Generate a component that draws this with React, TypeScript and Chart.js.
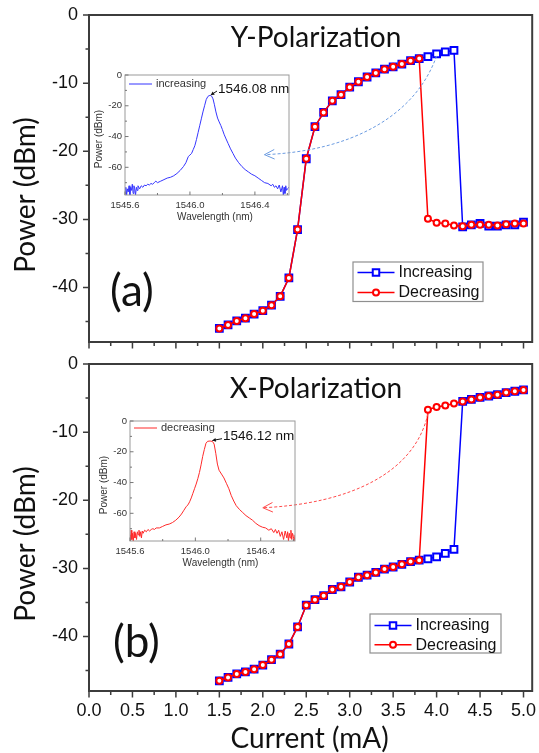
import React, { useEffect, useRef } from 'react';
import { Chart, registerables } from 'chart.js';

Chart.register(...registerables);

// ---------- data ----------
const CURRENT_MA = [1.5, 1.6, 1.7, 1.8, 1.9, 2.0, 2.1, 2.2, 2.3, 2.4, 2.5, 2.6, 2.7, 2.8, 2.9, 3.0, 3.1, 3.2, 3.3, 3.4, 3.5, 3.6, 3.7, 3.8, 3.9, 4.0, 4.1, 4.2, 4.3, 4.4, 4.5, 4.6, 4.7, 4.8, 4.9, 5.0];

const Y_POL_INCREASING = [-46.0, -45.5, -44.9, -44.5, -43.9, -43.4, -42.6, -41.3, -38.6, -31.5, -21.1, -16.4, -14.3, -12.6, -11.7, -10.6, -9.8, -9.1, -8.5, -7.95, -7.6, -7.2, -6.7, -6.4, -6.1, -5.7, -5.4, -5.2, -31.1, -30.8, -30.6, -31.0, -31.0, -30.8, -30.8, -30.4];
const Y_POL_DECREASING = [-46.0, -45.5, -44.9, -44.5, -43.9, -43.4, -42.6, -41.3, -38.6, -31.5, -21.1, -16.4, -14.3, -12.6, -11.7, -10.6, -9.8, -9.1, -8.5, -7.95, -7.6, -7.2, -6.7, -6.4, -29.9, -30.5, -30.6, -30.9, -31.0, -30.8, -30.8, -30.8, -30.9, -30.7, -30.6, -30.6];

const X_POL_INCREASING = [-46.5, -46.0, -45.5, -45.2, -44.8, -44.2, -43.4, -42.6, -41.1, -38.6, -35.4, -34.6, -34.0, -33.1, -32.7, -32.0, -31.3, -31.0, -30.6, -30.1, -29.8, -29.4, -29.0, -28.8, -28.6, -28.3, -27.8, -27.2, -5.5, -5.2, -4.9, -4.7, -4.5, -4.2, -4.0, -3.8];
const X_POL_DECREASING = [-46.5, -46.0, -45.5, -45.2, -44.8, -44.2, -43.4, -42.6, -41.1, -38.6, -35.4, -34.6, -34.0, -33.1, -32.7, -32.0, -31.3, -31.0, -30.6, -30.1, -29.8, -29.4, -29.0, -28.8, -6.7, -6.3, -6.1, -5.8, -5.5, -5.2, -4.9, -4.7, -4.5, -4.2, -4.0, -3.8];

const MAIN_X_TICKS = [0, 0.5, 1.0, 1.5, 2.0, 2.5, 3.0, 3.5, 4.0, 4.5, 5.0];
const MAIN_X_MINOR = [0.25, 0.75, 1.25, 1.75, 2.25, 2.75, 3.25, 3.75, 4.25, 4.75];
const MAIN_Y_TICKS = [0, -10, -20, -30, -40];
const MAIN_Y_MINOR = [-5, -15, -25, -35, -45];

// inset spectra
const WL_INCREASING = [1545.600, 1545.605, 1545.610, 1545.615, 1545.620, 1545.625, 1545.630, 1545.635, 1545.640, 1545.645, 1545.650, 1545.655, 1545.660, 1545.665, 1545.670, 1545.675, 1545.680, 1545.690, 1545.700, 1545.710, 1545.720, 1545.730, 1545.740, 1545.750, 1545.760, 1545.770, 1545.780, 1545.790, 1545.800, 1545.820, 1545.840, 1545.860, 1545.880, 1545.900, 1545.920, 1545.940, 1545.960, 1545.975, 1545.990, 1546.000, 1546.010, 1546.020, 1546.030, 1546.040, 1546.050, 1546.060, 1546.070, 1546.080, 1546.090, 1546.100, 1546.110, 1546.118, 1546.126, 1546.134, 1546.142, 1546.150, 1546.160, 1546.170, 1546.180, 1546.190, 1546.200, 1546.210, 1546.220, 1546.235, 1546.250, 1546.265, 1546.280, 1546.300, 1546.320, 1546.340, 1546.360, 1546.380, 1546.400, 1546.420, 1546.440, 1546.460, 1546.480, 1546.500, 1546.510, 1546.520, 1546.530, 1546.540, 1546.550, 1546.560, 1546.570, 1546.575, 1546.580, 1546.585, 1546.590, 1546.595, 1546.600, 1546.610];
const PW_INCREASING = [-77, -73, -78, -74, -76, -72, -78, -73, -75, -71, -77, -72, -74, -78, -73, -75, -72, -74, -72, -73, -71.5, -72, -71, -71.5, -70.5, -71, -70, -69, -70, -69, -68, -67, -66.5, -65.5, -64, -62, -59.5, -57, -53, -52, -51, -48.5, -46, -42, -37.5, -33, -28.5, -24, -20, -16, -14, -13.4, -13.3, -13.8, -15.5, -19, -24, -28, -30.5, -32.8, -35.5, -38.5, -41, -44.5, -48, -51, -54, -57, -59.5, -61.5, -63, -64.5, -65.5, -67, -68.5, -70, -70.5, -72, -71, -73, -72, -74, -71.5, -76, -72, -78, -73, -77, -72, -75, -74, -73];

const WL_DECREASING = [1545.600, 1545.603, 1545.607, 1545.611, 1545.615, 1545.620, 1545.625, 1545.630, 1545.635, 1545.640, 1545.645, 1545.650, 1545.655, 1545.660, 1545.665, 1545.670, 1545.675, 1545.680, 1545.690, 1545.700, 1545.710, 1545.720, 1545.730, 1545.740, 1545.750, 1545.760, 1545.780, 1545.800, 1545.820, 1545.840, 1545.860, 1545.880, 1545.900, 1545.915, 1545.930, 1545.945, 1545.955, 1545.965, 1545.975, 1545.985, 1545.995, 1546.005, 1546.015, 1546.025, 1546.035, 1546.045, 1546.055, 1546.065, 1546.075, 1546.090, 1546.105, 1546.115, 1546.125, 1546.135, 1546.145, 1546.160, 1546.175, 1546.190, 1546.205, 1546.220, 1546.235, 1546.250, 1546.270, 1546.290, 1546.310, 1546.330, 1546.350, 1546.370, 1546.390, 1546.410, 1546.430, 1546.450, 1546.465, 1546.480, 1546.490, 1546.500, 1546.510, 1546.520, 1546.530, 1546.540, 1546.550, 1546.560, 1546.565, 1546.570, 1546.575, 1546.580, 1546.585, 1546.590, 1546.595, 1546.600, 1546.605, 1546.610];
const PW_DECREASING = [-74, -78, -71, -77, -73, -78, -72, -76, -73, -77, -72, -74, -71, -75, -72, -76, -71.5, -73, -71, -72, -70.5, -71.5, -70.5, -70, -70.5, -69.5, -69.5, -68.5, -67.5, -67, -66, -64.5, -62.5, -60.5, -58, -55.5, -54.5, -52.5, -50, -47, -44, -41, -37.5, -33.5, -28.5, -23, -18.5, -14.5, -13.2, -13, -13.3, -15, -21, -28, -32, -34.5, -37, -40.5, -44, -48.5, -52, -55, -57.5, -59.5, -61.5, -63, -64.5, -66.5, -68, -69, -69.5, -71, -70, -72.5, -70.5, -73, -71, -75, -72, -77, -71.5, -76, -72, -78, -73, -76, -71, -77, -73, -75, -78, -74];

const INSET_X_TICKS = [1545.6, 1546.0, 1546.4];
const INSET_X_MINOR = [1545.8, 1546.2, 1546.6];
const INSET_Y_TICKS = [0, -20, -40, -60];
const INSET_Y_MINOR = [-10, -30, -50, -70];

// annotation arrows in data coordinates: start, control 1, control 2, tip
const Y_ARROW = [[4.0, -6.0], [3.75, -15], [3.0, -20], [2.02, -20.5]];
const X_ARROW = [[3.9, -7.3], [3.75, -16], [3.0, -20.5], [2.0, -21.1]];
// spectrum peaks (nm, dBm)
const Y_PEAK = [1546.122, -13.4];
const X_PEAK = [1546.098, -13.0];

// ---------- style ----------
const BLUE = '#0000ff';
const RED = '#ff0000';
const AXIS = '#3c3c3c';
const SANS = '"Liberation Sans", Arial, sans-serif';
const TITLE = 'Lato, "Open Sans", sans-serif';

function drawMarker(ctx: CanvasRenderingContext2D, kind: string, x: number, y: number, color: string) {
  ctx.save();
  ctx.lineWidth = 2;
  ctx.strokeStyle = color;
  ctx.fillStyle = '#fff';
  ctx.beginPath();
  if (kind === 'rect') ctx.rect(x - 3.25, y - 3.25, 6.5, 6.5);
  else ctx.arc(x, y, 3, 0, Math.PI * 2);
  ctx.fill();
  ctx.stroke();
  ctx.restore();
}

function makeMainDecor(cfg: any) {
  return {
    id: 'mainDecor',
    afterDraw(chart: any) {
      const { ctx, chartArea: ca } = chart;
      const xs = chart.scales.x;
      const ys = chart.scales.y;
      ctx.save();
      // ticks (outward)
      ctx.strokeStyle = AXIS;
      ctx.lineWidth = 1.5;
      ctx.beginPath();
      MAIN_X_TICKS.forEach((v) => { const p = xs.getPixelForValue(v); ctx.moveTo(p, ca.bottom); ctx.lineTo(p, ca.bottom + 6.5); });
      MAIN_X_MINOR.forEach((v) => { const p = xs.getPixelForValue(v); ctx.moveTo(p, ca.bottom); ctx.lineTo(p, ca.bottom + 4); });
      MAIN_Y_TICKS.forEach((v) => { const p = ys.getPixelForValue(v); ctx.moveTo(ca.left, p); ctx.lineTo(ca.left - 6, p); });
      MAIN_Y_MINOR.forEach((v) => { const p = ys.getPixelForValue(v); ctx.moveTo(ca.left, p); ctx.lineTo(ca.left - 3.5, p); });
      ctx.stroke();
      // frame
      ctx.lineWidth = 2;
      ctx.strokeRect(ca.left, ca.top, ca.right - ca.left, ca.bottom - ca.top);

      // curved dashed arrow
      const pts = cfg.arrow.map((p: number[]) => [xs.getPixelForValue(p[0]), ys.getPixelForValue(p[1])]);
      ctx.strokeStyle = cfg.arrowColor;
      ctx.lineWidth = 1;
      ctx.setLineDash([3, 2]);
      ctx.beginPath();
      ctx.moveTo(pts[0][0], pts[0][1]);
      ctx.bezierCurveTo(pts[1][0], pts[1][1], pts[2][0], pts[2][1], pts[3][0], pts[3][1]);
      ctx.stroke();
      ctx.setLineDash([]);
      const tip = pts[3];
      const ang = Math.atan2(tip[1] - pts[2][1], tip[0] - pts[2][0]);
      const L = 11;
      const W = 0.45;
      ctx.beginPath();
      ctx.moveTo(tip[0] - L * Math.cos(ang - W), tip[1] - L * Math.sin(ang - W));
      ctx.lineTo(tip[0], tip[1]);
      ctx.lineTo(tip[0] - L * Math.cos(ang + W), tip[1] - L * Math.sin(ang + W));
      ctx.stroke();

      // legend
      const lx = ca.left + cfg.legend.dx;
      const ly = ca.top + cfg.legend.dy;
      ctx.fillStyle = '#fff';
      ctx.fillRect(lx, ly, cfg.legend.w, cfg.legend.h);
      ctx.strokeStyle = '#8f8f8f';
      ctx.lineWidth = 1.2;
      ctx.strokeRect(lx, ly, cfg.legend.w, cfg.legend.h);
      const ordered = [chart.data.datasets[1], chart.data.datasets[0]];
      ordered.forEach((ds: any, i: number) => {
        const ry = ly + cfg.legend.rows[i];
        ctx.strokeStyle = ds.borderColor;
        ctx.lineWidth = 1.5;
        ctx.beginPath();
        ctx.moveTo(lx + 4.5, ry);
        ctx.lineTo(lx + 41.5, ry);
        ctx.stroke();
        drawMarker(ctx, ds.pointStyle, lx + 23, ry, ds.borderColor);
        ctx.fillStyle = '#111';
        ctx.font = `16px ${SANS}`;
        ctx.textAlign = 'left';
        ctx.textBaseline = 'middle';
        ctx.fillText(ds.label, lx + 45.5, ry + 0.5);
      });

      // texts
      ctx.fillStyle = '#111';
      ctx.textBaseline = 'alphabetic';
      ctx.font = `28px ${TITLE}`;
      ctx.textAlign = 'center';
      ctx.fillText(cfg.title, ca.left + 227, ca.top + cfg.titleDy);
      ctx.font = `44px ${TITLE}`;
      ctx.textAlign = 'left';
      ctx.fillText(cfg.letter, ca.left + cfg.letterDx, ca.top + cfg.letterDy);
      // y title
      ctx.save();
      ctx.translate(35, ca.top + 180);
      ctx.rotate(-Math.PI / 2);
      ctx.font = `28px ${TITLE}`;
      ctx.textAlign = 'center';
      ctx.fillText('Power (dBm)', 0, 0);
      ctx.restore();
      if (cfg.showX) {
        ctx.font = `28px ${TITLE}`;
        ctx.textAlign = 'center';
        ctx.fillText('Current (mA)', (ca.left + ca.right) / 2 - 1, ca.bottom + 57);
      }
      ctx.restore();
    },
  };
}

function makeMainChart(canvas: HTMLCanvasElement, cfg: any) {
  return new Chart(canvas, {
    type: 'line',
    data: {
      datasets: [
        {
          label: 'Decreasing',
          data: CURRENT_MA.map((x, i) => ({ x, y: cfg.dec[i] })),
          borderColor: RED,
          backgroundColor: '#fff',
          borderWidth: 1.5,
          pointStyle: 'circle',
          pointRadius: 3,
          pointBorderWidth: 2,
          pointBackgroundColor: '#fff',
          pointBorderColor: RED,
          tension: 0,
        },
        {
          label: 'Increasing',
          data: CURRENT_MA.map((x, i) => ({ x, y: cfg.inc[i] })),
          borderColor: BLUE,
          backgroundColor: '#fff',
          borderWidth: 1.5,
          pointStyle: 'rect',
          pointRadius: 4.8,
          pointBorderWidth: 2,
          pointBackgroundColor: '#fff',
          pointBorderColor: BLUE,
          tension: 0,
        },
      ],
    },
    options: {
      responsive: false,
      animation: false,
      events: [],
      layout: { padding: { left: 0, top: cfg.padTop, right: 4, bottom: 0 } },
      plugins: { legend: { display: false }, tooltip: { enabled: false } },
      scales: {
        x: {
          type: 'linear',
          min: 0,
          max: 5.1,
          grid: { display: false, drawTicks: false },
          border: { display: false },
          ticks: {
            display: cfg.showX,
            padding: 9,
            autoSkip: false,
            maxRotation: 0,
            color: '#111',
            font: { family: SANS, size: 18 },
            callback: (v: any) => Number(v).toFixed(1),
          },
          afterBuildTicks: (s: any) => { s.ticks = MAIN_X_TICKS.map((value) => ({ value })); },
          afterFit: (s: any) => { s.height = cfg.xHeight; s.paddingLeft = 0; s.paddingRight = 0; },
        },
        y: {
          type: 'linear',
          min: -48,
          max: 0,
          grid: { display: false, drawTicks: false },
          border: { display: false },
          ticks: {
            padding: 11,
            autoSkip: false,
            color: '#111',
            font: { family: SANS, size: 18 },
            callback: (v: any) => String(Math.round(Number(v))),
          },
          afterBuildTicks: (s: any) => { s.ticks = MAIN_Y_TICKS.map((value) => ({ value })); },
          afterFit: (s: any) => { s.width = 89; s.paddingTop = 0; s.paddingBottom = 0; },
        },
      },
    },
    plugins: [makeMainDecor(cfg)],
  } as any);
}

function makeInsetDecor(cfg: any) {
  return {
    id: 'insetDecor',
    afterDraw(chart: any) {
      const { ctx, chartArea: ca } = chart;
      const xs = chart.scales.x;
      const ys = chart.scales.y;
      ctx.save();
      ctx.strokeStyle = '#9a9a9a';
      ctx.lineWidth = 1;
      ctx.strokeRect(ca.left, ca.top, ca.right - ca.left, ca.bottom - ca.top);
      ctx.strokeStyle = '#777';
      ctx.beginPath();
      INSET_X_TICKS.forEach((v) => { const p = xs.getPixelForValue(v); ctx.moveTo(p, ca.bottom); ctx.lineTo(p, ca.bottom - 3.5); });
      INSET_X_MINOR.forEach((v) => { const p = xs.getPixelForValue(v); ctx.moveTo(p, ca.bottom); ctx.lineTo(p, ca.bottom - 2); });
      INSET_Y_TICKS.forEach((v) => { const p = ys.getPixelForValue(v); ctx.moveTo(ca.left, p); ctx.lineTo(ca.left + 3.5, p); });
      INSET_Y_MINOR.forEach((v) => { const p = ys.getPixelForValue(v); ctx.moveTo(ca.left, p); ctx.lineTo(ca.left + 2, p); });
      ctx.stroke();

      // legend
      const ds = chart.data.datasets[0];
      ctx.strokeStyle = ds.borderColor;
      ctx.lineWidth = 1;
      ctx.beginPath();
      ctx.moveTo(ca.left + 4, ca.top + cfg.legendDy);
      ctx.lineTo(ca.left + 27, ca.top + cfg.legendDy);
      ctx.stroke();
      ctx.fillStyle = '#333';
      ctx.font = `11px ${SANS}`;
      ctx.textAlign = 'left';
      ctx.textBaseline = 'middle';
      ctx.fillText(ds.label, ca.left + 31, ca.top + cfg.legendDy);

      // peak label + arrow
      const tx = ca.left + 93;
      const ty = ca.top + cfg.peakDy;
      ctx.fillStyle = '#111';
      ctx.font = `13.5px ${SANS}`;
      ctx.fillText(cfg.peakText, tx, ty);
      const px = xs.getPixelForValue(cfg.peak[0]);
      const py = ys.getPixelForValue(cfg.peak[1]);
      ctx.strokeStyle = '#111';
      ctx.lineWidth = 1;
      ctx.beginPath();
      ctx.moveTo(tx - 1, ty + 2);
      ctx.lineTo(px + 1, py - 0.5);
      ctx.stroke();
      const ang = Math.atan2(py - 0.5 - (ty + 2), px + 1 - (tx - 1));
      ctx.beginPath();
      ctx.moveTo(px + 1, py - 0.5);
      ctx.lineTo(px + 1 - 4 * Math.cos(ang - 0.5), py - 0.5 - 4 * Math.sin(ang - 0.5));
      ctx.lineTo(px + 1 - 4 * Math.cos(ang + 0.5), py - 0.5 - 4 * Math.sin(ang + 0.5));
      ctx.closePath();
      ctx.fill();

      // axis titles
      ctx.fillStyle = '#333';
      ctx.font = `10px ${SANS}`;
      ctx.textAlign = 'center';
      ctx.textBaseline = 'middle';
      ctx.fillText('Wavelength (nm)', (ca.left + ca.right) / 2 + 8, ca.bottom + 22);
      ctx.save();
      ctx.translate(ca.left - 26, (ca.top + ca.bottom) / 2 + 4);
      ctx.rotate(-Math.PI / 2);
      ctx.fillText('Power (dBm)', 0, 0);
      ctx.restore();
      ctx.restore();
    },
  };
}

function makeInsetChart(canvas: HTMLCanvasElement, cfg: any) {
  return new Chart(canvas, {
    type: 'line',
    data: {
      datasets: [
        {
          label: cfg.label,
          data: cfg.wl.map((x: number, i: number) => ({ x, y: cfg.pw[i] })),
          borderColor: cfg.color,
          borderWidth: 1,
          pointRadius: 0,
          tension: 0,
        },
      ],
    },
    options: {
      responsive: false,
      animation: false,
      events: [],
      layout: { padding: { left: 0, top: 7, right: cfg.padRight, bottom: 0 } },
      plugins: { legend: { display: false }, tooltip: { enabled: false } },
      scales: {
        x: {
          type: 'linear',
          min: 1545.6,
          max: 1546.61,
          grid: { display: false, drawTicks: false },
          border: { display: false },
          ticks: {
            padding: 5,
            autoSkip: false,
            maxRotation: 0,
            color: '#333',
            font: { family: SANS, size: 9.5 },
            callback: (v: any) => Number(v).toFixed(1),
          },
          afterBuildTicks: (s: any) => { s.ticks = INSET_X_TICKS.map((value) => ({ value })); },
          afterFit: (s: any) => { s.height = 29; s.paddingLeft = 0; s.paddingRight = 0; },
        },
        y: {
          type: 'linear',
          min: -78,
          max: 0,
          grid: { display: false, drawTicks: false },
          border: { display: false },
          ticks: {
            padding: 3,
            autoSkip: false,
            color: '#333',
            font: { family: SANS, size: 9.5 },
            callback: (v: any) => String(Math.round(Number(v))),
          },
          afterBuildTicks: (s: any) => { s.ticks = INSET_Y_TICKS.map((value) => ({ value })); },
          afterFit: (s: any) => { s.width = 39; s.paddingTop = 0; s.paddingBottom = 0; },
        },
      },
    },
    plugins: [makeInsetDecor(cfg)],
  } as any);
}

const TOP_CFG = {
  inc: Y_POL_INCREASING,
  dec: Y_POL_DECREASING,
  title: 'Y-Polarization',
  letter: '(a)',
  titleDy: 31.7,
  letterDx: 21,
  letterDy: 291,
  padTop: 15,
  xHeight: 11,
  showX: false,
  arrow: Y_ARROW,
  arrowColor: '#6b9be0',
  legend: { dx: 264, dy: 247, w: 130, h: 39.5, rows: [10.4, 30.4] },
};

const BOT_CFG = {
  inc: X_POL_INCREASING,
  dec: X_POL_DECREASING,
  title: 'X-Polarization',
  letter: '(b)',
  titleDy: 34.3,
  letterDx: 24,
  letterDy: 293,
  padTop: 11,
  xHeight: 62,
  showX: true,
  arrow: X_ARROW,
  arrowColor: '#ff4a4a',
  legend: { dx: 281, dy: 250, w: 131, h: 39, rows: [11.4, 30.7] },
};

const TOP_INSET = { label: 'increasing', wl: WL_INCREASING, pw: PW_INCREASING, color: '#3535ff', padRight: 7, legendDy: 9, peakDy: 14, peakText: '1546.08 nm', peak: Y_PEAK };
const BOT_INSET = { label: 'decreasing', wl: WL_DECREASING, pw: PW_DECREASING, color: '#ff2a2a', padRight: 6, legendDy: 7, peakDy: 15.7, peakText: '1546.12 nm', peak: X_PEAK };

export default function App() {
  const topRef = useRef<HTMLCanvasElement>(null);
  const botRef = useRef<HTMLCanvasElement>(null);
  const topInsetRef = useRef<HTMLCanvasElement>(null);
  const botInsetRef = useRef<HTMLCanvasElement>(null);

  useEffect(() => {
    const charts = [
      makeMainChart(topRef.current!, TOP_CFG),
      makeMainChart(botRef.current!, BOT_CFG),
      makeInsetChart(topInsetRef.current!, TOP_INSET),
      makeInsetChart(botInsetRef.current!, BOT_INSET),
    ];
    return () => charts.forEach((c) => c.destroy());
  }, []);

  const abs = (left: number, top: number): React.CSSProperties => ({ position: 'absolute', left, top });

  return (
    <div style={{ position: 'absolute', left: 0, top: 0, width: 539, height: 753, background: '#fff', overflow: 'hidden' }}>
      <canvas ref={topRef} width={539} height={353} style={abs(0, 0)} />
      <canvas ref={botRef} width={539} height={400} style={abs(0, 353)} />
      <canvas ref={topInsetRef} width={210} height={156} style={abs(86, 68)} />
      <canvas ref={botInsetRef} width={210} height={156} style={abs(91, 414)} />
    </div>
  );
}
